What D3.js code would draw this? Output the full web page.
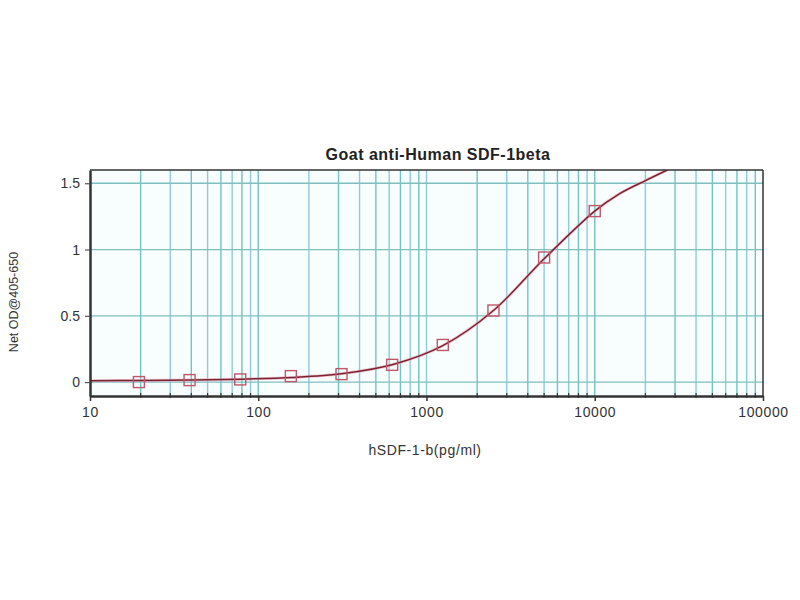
<!DOCTYPE html>
<html>
<head>
<meta charset="utf-8">
<script src="https://cdn.jsdelivr.net/npm/d3@7/dist/d3.min.js"></script>
<style>
  html, body { margin: 0; padding: 0; background: #ffffff; }
  svg { display: block; font-family: "Liberation Sans", Arial, sans-serif; }
</style>
</head>
<body>
<svg id="chart" width="800" height="600"></svg>
<script>
// ---- data ----
const concentrations = [19.53, 39.06, 78.13, 156.25, 312.5, 625, 1250, 2500, 5000, 10000];
const odValues       = [0.0,   0.015, 0.02,  0.045,  0.06,  0.13, 0.28, 0.54, 0.94, 1.29];
// fitted curve as seen in the picture (x, y)
const curveX = [10, 20, 40, 80, 160, 320, 640, 1250, 2500, 5000, 10000, 14000, 20000, 27000];
const curveY = [0.01, 0.012, 0.016, 0.022, 0.035, 0.065, 0.135, 0.275, 0.54, 0.93, 1.29, 1.42, 1.52, 1.6];
const xTickValues = [10, 100, 1000, 10000, 100000];
const xTickLabels = ["10", "100", "1000", "10000", "100000"];
const yTickValues = [0, 0.5, 1, 1.5];
const yTickLabels = ["0", "0.5", "1", "1.5"];
const titleText = "Goat anti-Human SDF-1beta";
const xLabelText = "hSDF-1-b(pg/ml)";
const yLabelText = "Net OD@405-650";

// ---- layout ----
const L = 90, R = 763, T = 170, B = 396;
const svg = d3.select("#chart");
const x = d3.scaleLog().domain([10, 100000]).range([L, R]);
const y = d3.scaleLinear().domain([-0.105, 1.6]).range([B, T]);

// plot background
svg.append("rect").attr("x", L).attr("y", T).attr("width", R - L).attr("height", B - T)
  .attr("fill", "#f8fdfd");

// vertical grid lines (2..10 in every decade)
const gridX = [];
for (let e = 1; e <= 4; e++) for (let k = 2; k <= 10; k++) {
  const v = k * Math.pow(10, e);
  if (v < 100000) gridX.push(v);
}
svg.append("g").selectAll("line").data(gridX).join("line")
  .attr("x1", d => x(d)).attr("x2", d => x(d))
  .attr("y1", T).attr("y2", B)
  .attr("stroke", (d, i) => (i % 2 ? "#8fcbe0" : "#72c3c8"))
  .attr("stroke-width", 1.4);

// horizontal grid lines
svg.append("g").selectAll("line").data(yTickValues).join("line")
  .attr("x1", L).attr("x2", R)
  .attr("y1", d => y(d)).attr("y2", d => y(d))
  .attr("stroke", "#7fbfc0").attr("stroke-width", 1.3);

// clip
svg.append("clipPath").attr("id", "clip").append("rect")
  .attr("x", L).attr("y", T).attr("width", R - L).attr("height", B - T);

// curve
const curvePts = curveX.map((v, i) => [v, curveY[i]]);
const line = d3.line().x(d => x(d[0])).y(d => y(d[1])).curve(d3.curveCatmullRom.alpha(0.5));
svg.append("path").datum(curvePts).attr("clip-path", "url(#clip)")
  .attr("d", line).attr("fill", "none")
  .attr("stroke", "#e8a0b0").attr("stroke-width", 3).attr("opacity", 0.6);
svg.append("path").datum(curvePts).attr("clip-path", "url(#clip)")
  .attr("d", line).attr("fill", "none")
  .attr("stroke", "#7a2232").attr("stroke-width", 1.5);

// markers
const ms = 11;
svg.append("g").selectAll("rect").data(concentrations).join("rect")
  .attr("x", d => x(d) - ms / 2)
  .attr("y", (d, i) => y(odValues[i]) - ms / 2)
  .attr("width", ms).attr("height", ms)
  .attr("fill", "none").attr("stroke", "#c0566a").attr("stroke-width", 1.4);

// frame: thin top and right, thick left and bottom axes
svg.append("line").attr("x1", L).attr("x2", R).attr("y1", T).attr("y2", T)
  .attr("stroke", "#333").attr("stroke-width", 1.5);
svg.append("line").attr("x1", R).attr("x2", R).attr("y1", T).attr("y2", B)
  .attr("stroke", "#333").attr("stroke-width", 1.5);

// x axis
const xAxis = d3.axisBottom(x).tickValues(xTickValues)
  .tickFormat((d, i) => xTickLabels[i]).tickSize(5).tickSizeOuter(0);
const gx = svg.append("g").attr("transform", `translate(0,${B})`).call(xAxis);
gx.select(".domain").attr("stroke", "#333").attr("stroke-width", 2.5);
gx.selectAll(".tick line").attr("stroke", "#333").attr("stroke-width", 1.5);
gx.selectAll(".tick text").attr("font-size", 14).attr("fill", "#333")
  .attr("letter-spacing", "0.6px").attr("dy", "0.9em");
// minor ticks on x axis
svg.append("g").selectAll("line").data(gridX.filter(v => xTickValues.indexOf(v) < 0)).join("line")
  .attr("x1", d => x(d)).attr("x2", d => x(d))
  .attr("y1", B - 3).attr("y2", B + 2)
  .attr("stroke", "#333").attr("stroke-width", 1.2);

// y axis
const yAxis = d3.axisLeft(y).tickValues(yTickValues)
  .tickFormat((d, i) => yTickLabels[i]).tickSize(5).tickSizeOuter(0);
const gy = svg.append("g").attr("transform", `translate(${L},0)`).call(yAxis);
gy.select(".domain").attr("stroke", "#333").attr("stroke-width", 2.5);
gy.selectAll(".tick line").attr("stroke", "#555").attr("stroke-width", 1.2);
gy.selectAll(".tick text").attr("font-size", 14).attr("fill", "#333").attr("dx", "-2");

// title and labels
svg.append("text").attr("x", 438).attr("y", 160).attr("text-anchor", "middle")
  .attr("font-size", 16).attr("font-weight", "bold").attr("fill", "#222")
  .attr("letter-spacing", "0.5px")
  .text(titleText);
svg.append("text").attr("x", 425).attr("y", 455).attr("text-anchor", "middle")
  .attr("font-size", 14).attr("fill", "#333").attr("letter-spacing", "0.6px")
  .text(xLabelText);
svg.append("text").attr("transform", "translate(18,302) rotate(-90)")
  .attr("text-anchor", "middle").attr("font-size", 12.5).attr("fill", "#333")
  .text(yLabelText);
</script>
</body>
</html>
